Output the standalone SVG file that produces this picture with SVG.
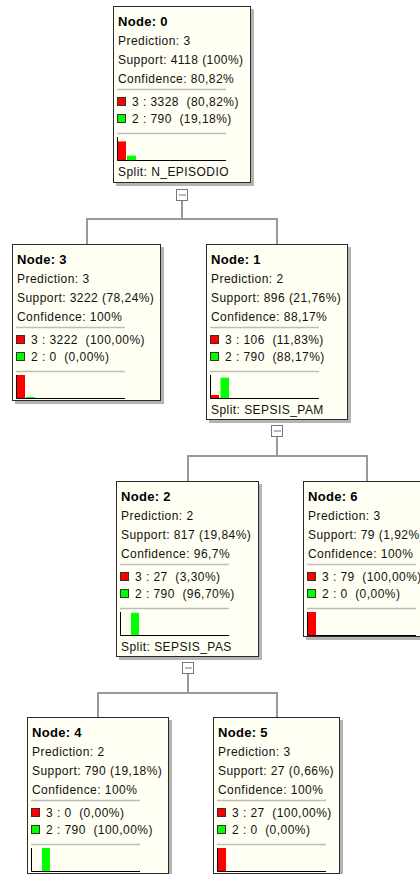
<svg xmlns="http://www.w3.org/2000/svg" width="420" height="874" viewBox="0 0 420 874">
<style>
.bg{fill:#ffffff}
.shadow{fill:#b4b4b4}
.box{fill:#fffff3;stroke:#2a2a2a;stroke-width:1}
.title{font-family:"Liberation Sans",Arial,sans-serif;font-weight:bold;font-size:13px;letter-spacing:0.3px;fill:#000}
.t{font-family:"Liberation Sans",Arial,sans-serif;font-size:12px;letter-spacing:0.45px;fill:#111;white-space:pre}
.sep{stroke:#bcbcbc;stroke-width:1.5}
.sq{stroke:#333;stroke-width:1}
.red{fill:#ff0000}
.green{fill:#00ff00}
.axis{stroke:#000;stroke-width:1;fill:none}
.conn{stroke:#999;stroke-width:2;fill:none}
.icon{fill:#fff;stroke:#777;stroke-width:1}
.minus{stroke:#777;stroke-width:1}
</style>
<rect class="bg" x="0" y="0" width="420" height="874"/>
<g id="connectors">
  <path class="conn" d="M182 200.5V219M87 244V219H277V244"/>
  <path class="conn" d="M277 436.5V456M188 481V456H367V481"/>
  <path class="conn" d="M188 673.5V693M98 717V693H277V717"/>
  <rect class="icon" x="176.5" y="189.5" width="11" height="11"/>
  <line class="minus" x1="179" y1="195" x2="186" y2="195"/>
  <rect class="icon" x="271.5" y="425.5" width="11" height="11"/>
  <line class="minus" x1="274" y1="431" x2="281" y2="431"/>
  <rect class="icon" x="182.5" y="662.5" width="11" height="11"/>
  <line class="minus" x1="185" y1="668" x2="192" y2="668"/>
</g>
<g id="node0">
  <rect class="shadow" x="116" y="9" width="138" height="177"/>
  <rect class="box" x="113.5" y="6.5" width="137" height="176"/>
  <text class="title" x="118" y="26">Node: 0</text>
  <text class="t" x="118" y="45">Prediction: 3</text>
  <text class="t" x="118" y="64">Support: 4118 (100%)</text>
  <text class="t" x="118" y="83">Confidence: 80,82%</text>
  <line class="sep" x1="117" y1="89.5" x2="226" y2="89.5"/>
  <rect class="sq red" x="117.5" y="97.5" width="8" height="8"/>
  <text class="t" x="132" y="106">3 : 3328  (80,82%)</text>
  <rect class="sq green" x="117.5" y="114.5" width="8" height="8"/>
  <text class="t" x="132" y="123">2 : 790  (19,18%)</text>
  <line class="sep" x1="117" y1="133.5" x2="226" y2="133.5"/>
  <rect class="red" x="117" y="141.4" width="9" height="18.6"/>
  <rect class="green" x="127" y="155.6" width="9" height="4.4"/>
  <path class="axis" d="M117.5 137V160.5H226"/>
  <text class="t" x="118" y="176">Split: N_EPISODIO</text>
</g>
<g id="node3">
  <rect class="shadow" x="15" y="247" width="149" height="157"/>
  <rect class="box" x="12.5" y="244.5" width="148" height="156"/>
  <text class="title" x="17" y="264">Node: 3</text>
  <text class="t" x="17" y="283">Prediction: 3</text>
  <text class="t" x="17" y="302">Support: 3222 (78,24%)</text>
  <text class="t" x="17" y="321">Confidence: 100%</text>
  <line class="sep" x1="16" y1="327.5" x2="125" y2="327.5"/>
  <rect class="sq red" x="16.5" y="335.5" width="8" height="8"/>
  <text class="t" x="31" y="344">3 : 3222  (100,00%)</text>
  <rect class="sq green" x="16.5" y="352.5" width="8" height="8"/>
  <text class="t" x="31" y="361">2 : 0  (0,00%)</text>
  <line class="sep" x1="16" y1="371.5" x2="125" y2="371.5"/>
  <rect class="red" x="16" y="375" width="9" height="23"/>
  <rect class="green" x="26" y="397" width="9" height="1"/>
  <path class="axis" d="M16.5 375V398.5H125"/>
</g>
<g id="node1">
  <rect class="shadow" x="209" y="247" width="142" height="176"/>
  <rect class="box" x="206.5" y="244.5" width="141" height="175"/>
  <text class="title" x="211" y="264">Node: 1</text>
  <text class="t" x="211" y="283">Prediction: 2</text>
  <text class="t" x="211" y="302">Support: 896 (21,76%)</text>
  <text class="t" x="211" y="321">Confidence: 88,17%</text>
  <line class="sep" x1="210" y1="327.5" x2="319" y2="327.5"/>
  <rect class="sq red" x="210.5" y="335.5" width="8" height="8"/>
  <text class="t" x="225" y="344">3 : 106  (11,83%)</text>
  <rect class="sq green" x="210.5" y="352.5" width="8" height="8"/>
  <text class="t" x="225" y="361">2 : 790  (88,17%)</text>
  <line class="sep" x1="210" y1="371.5" x2="319" y2="371.5"/>
  <rect class="red" x="210" y="395" width="9" height="3"/>
  <rect class="green" x="220.5" y="377.7" width="8.5" height="20.3"/>
  <path class="axis" d="M210.5 375V398.5H319"/>
  <text class="t" x="211" y="414">Split: SEPSIS_PAM</text>
</g>
<g id="node2">
  <rect class="shadow" x="119" y="484" width="143" height="176"/>
  <rect class="box" x="116.5" y="481.5" width="142" height="175"/>
  <text class="title" x="121" y="501">Node: 2</text>
  <text class="t" x="121" y="520">Prediction: 2</text>
  <text class="t" x="121" y="539">Support: 817 (19,84%)</text>
  <text class="t" x="121" y="558">Confidence: 96,7%</text>
  <line class="sep" x1="120" y1="564.5" x2="229" y2="564.5"/>
  <rect class="sq red" x="120.5" y="572.5" width="8" height="8"/>
  <text class="t" x="135" y="581">3 : 27  (3,30%)</text>
  <rect class="sq green" x="120.5" y="589.5" width="8" height="8"/>
  <text class="t" x="135" y="598">2 : 790  (96,70%)</text>
  <line class="sep" x1="120" y1="608.5" x2="229" y2="608.5"/>
  <rect class="green" x="131" y="612.8" width="8" height="22.2"/>
  <path class="axis" d="M120.5 612V635.5H229"/>
  <text class="t" x="121" y="651">Split: SEPSIS_PAS</text>
</g>
<g id="node6">
  <rect class="shadow" x="306" y="484" width="128" height="156"/>
  <rect class="box" x="303.5" y="481.5" width="127" height="155"/>
  <text class="title" x="308" y="501">Node: 6</text>
  <text class="t" x="308" y="520">Prediction: 3</text>
  <text class="t" x="308" y="539">Support: 79 (1,92%)</text>
  <text class="t" x="308" y="558">Confidence: 100%</text>
  <line class="sep" x1="307" y1="564.5" x2="416" y2="564.5"/>
  <rect class="sq red" x="307.5" y="572.5" width="8" height="8"/>
  <text class="t" x="322" y="581">3 : 79  (100,00%)</text>
  <rect class="sq green" x="307.5" y="589.5" width="8" height="8"/>
  <text class="t" x="322" y="598">2 : 0  (0,00%)</text>
  <line class="sep" x1="307" y1="608.5" x2="416" y2="608.5"/>
  <rect class="red" x="307" y="612" width="9" height="23"/>
  <path class="axis" d="M307.5 612V635.5H416"/>
</g>
<g id="node4">
  <rect class="shadow" x="30" y="720" width="142" height="157"/>
  <rect class="box" x="27.5" y="717.5" width="141" height="156"/>
  <text class="title" x="32" y="737">Node: 4</text>
  <text class="t" x="32" y="756">Prediction: 2</text>
  <text class="t" x="32" y="775">Support: 790 (19,18%)</text>
  <text class="t" x="32" y="794">Confidence: 100%</text>
  <line class="sep" x1="31" y1="800.5" x2="140" y2="800.5"/>
  <rect class="sq red" x="31.5" y="808.5" width="8" height="8"/>
  <text class="t" x="46" y="817">3 : 0  (0,00%)</text>
  <rect class="sq green" x="31.5" y="825.5" width="8" height="8"/>
  <text class="t" x="46" y="834">2 : 790  (100,00%)</text>
  <line class="sep" x1="31" y1="844.5" x2="140" y2="844.5"/>
  <rect class="green" x="42" y="848" width="8" height="23"/>
  <path class="axis" d="M31.5 848V871.5H140"/>
</g>
<g id="node5">
  <rect class="shadow" x="216" y="720" width="127" height="157"/>
  <rect class="box" x="213.5" y="717.5" width="126" height="156"/>
  <text class="title" x="218" y="737">Node: 5</text>
  <text class="t" x="218" y="756">Prediction: 3</text>
  <text class="t" x="218" y="775">Support: 27 (0,66%)</text>
  <text class="t" x="218" y="794">Confidence: 100%</text>
  <line class="sep" x1="217" y1="800.5" x2="326" y2="800.5"/>
  <rect class="sq red" x="217.5" y="808.5" width="8" height="8"/>
  <text class="t" x="232" y="817">3 : 27  (100,00%)</text>
  <rect class="sq green" x="217.5" y="825.5" width="8" height="8"/>
  <text class="t" x="232" y="834">2 : 0  (0,00%)</text>
  <line class="sep" x1="217" y1="844.5" x2="326" y2="844.5"/>
  <rect class="red" x="217" y="848" width="9" height="23"/>
  <path class="axis" d="M217.5 848V871.5H326"/>
</g>
</svg>
